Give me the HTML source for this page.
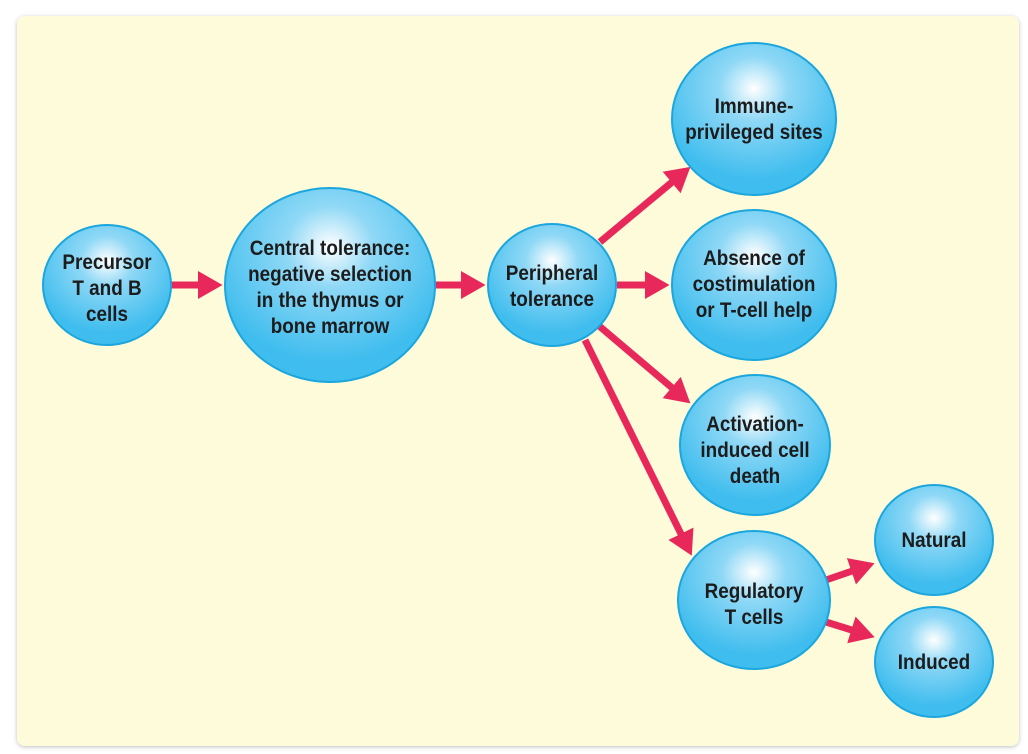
<!DOCTYPE html>
<html><head><style>
body{margin:0;background:#fff;}
svg{display:block}
text{font-family:"Liberation Sans",sans-serif;font-weight:bold;font-size:21px;fill:#1c1c1c;text-anchor:middle}
</style></head><body>
<svg width="1028" height="754" viewBox="0 0 1028 754">
<defs>
<radialGradient id="g" cx="0.5" cy="0.3" r="0.6">
<stop offset="0" stop-color="#ffffff"/>
<stop offset="0.35" stop-color="#8fd8f6"/>
<stop offset="1" stop-color="#3fbdee"/>
</radialGradient>
<filter id="sh" x="-5%" y="-5%" width="110%" height="110%"><feDropShadow dx="0" dy="1" stdDeviation="2" flood-color="#000" flood-opacity="0.25"/></filter>
<marker id="ah" markerWidth="4" markerHeight="4" refX="1" refY="2" orient="auto" markerUnits="strokeWidth"><path d="M0,0 L3.5,2 L0,4 Z" fill="#e8285a"/></marker>
</defs>
<rect x="17" y="16" width="1002" height="730" rx="8" fill="#fdfbd9" filter="url(#sh)"/>
<g stroke="#e8285a" stroke-width="7" marker-end="url(#ah)" fill="none">
<line x1="171" y1="285" x2="205" y2="285"/>
<line x1="435" y1="285" x2="468" y2="285"/>
<line x1="600" y1="242" x2="677" y2="178"/>
<line x1="617" y1="285" x2="652" y2="285"/>
<line x1="598" y1="325" x2="677" y2="392"/>
<line x1="585" y1="340" x2="684" y2="540"/>
<line x1="826" y1="580" x2="858" y2="569"/>
<line x1="826" y1="622" x2="858" y2="632"/>
</g>
<g fill="url(#g)" stroke="#1ba6de" stroke-width="2">
<ellipse cx="107" cy="285" rx="64" ry="60"/>
<ellipse cx="330" cy="285" rx="105" ry="97"/>
<ellipse cx="552" cy="285" rx="64" ry="61"/>
<ellipse cx="754" cy="119" rx="82" ry="76"/>
<ellipse cx="754" cy="285" rx="82" ry="75"/>
<ellipse cx="755" cy="445" rx="75" ry="70"/>
<ellipse cx="754" cy="600" rx="76" ry="69"/>
<ellipse cx="934" cy="540" rx="59" ry="55"/>
<ellipse cx="934" cy="662" rx="59" ry="55"/>
</g>
<g transform="translate(107,0) scale(0.9,1)"><text x="0" y="269">Precursor</text><text x="0" y="295">T and B</text><text x="0" y="321">cells</text></g>
<g transform="translate(330,0) scale(0.9,1)"><text x="0" y="255">Central tolerance:</text><text x="0" y="281">negative selection</text><text x="0" y="307">in the thymus or</text><text x="0" y="333">bone marrow</text></g>
<g transform="translate(552,0) scale(0.9,1)"><text x="0" y="280">Peripheral</text><text x="0" y="306">tolerance</text></g>
<g transform="translate(754,0) scale(0.9,1)"><text x="0" y="113">Immune-</text><text x="0" y="139">privileged sites</text></g>
<g transform="translate(754,0) scale(0.9,1)"><text x="0" y="265">Absence of</text><text x="0" y="291">costimulation</text><text x="0" y="317">or T-cell help</text></g>
<g transform="translate(755,0) scale(0.9,1)"><text x="0" y="431">Activation-</text><text x="0" y="457">induced cell</text><text x="0" y="483">death</text></g>
<g transform="translate(754,0) scale(0.9,1)"><text x="0" y="598">Regulatory</text><text x="0" y="624">T cells</text></g>
<g transform="translate(934,0) scale(0.9,1)"><text x="0" y="547">Natural</text></g>
<g transform="translate(934,0) scale(0.9,1)"><text x="0" y="669">Induced</text></g>
</svg>
</body></html>
